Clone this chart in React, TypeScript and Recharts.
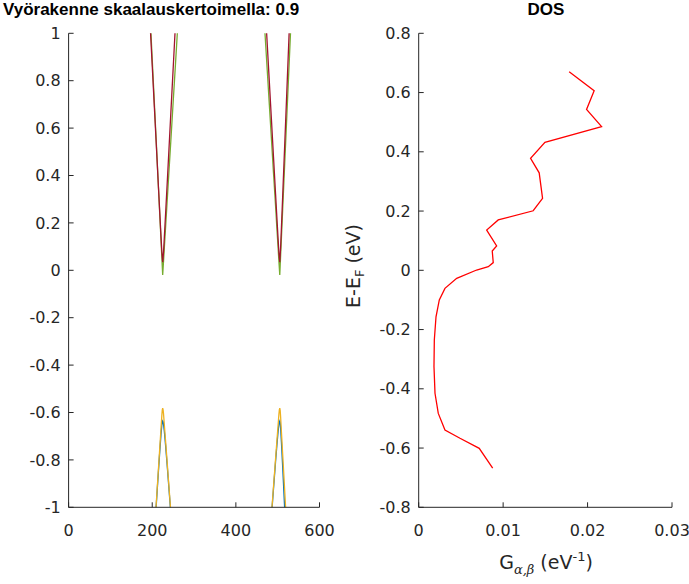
import { LineChart, Line, XAxis, YAxis } from 'recharts'

// band structure (k index -> energy in eV)
const kUpperLeft = [190, 195, 200, 205, 210, 215, 218, 221, 223, 225, 227, 229, 232, 236, 240, 245, 250, 255, 260, 265]
const redLeft = [1.208, 1.035, 0.863, 0.691, 0.519, 0.347, 0.244, 0.142, 0.077, 0.034, 0.077, 0.141, 0.241, 0.375, 0.511, 0.681, 0.85, 1.02, 1.19, 1.36]
const greenLeft = [1.255, 1.07, 0.89, 0.71, 0.53, 0.344, 0.235, 0.126, 0.053, -0.02, 0.038, 0.096, 0.184, 0.3, 0.417, 0.562, 0.708, 0.853, 1.0, 1.144]

const kUpperRight = [465, 470, 475, 480, 485, 490, 495, 498, 501, 503, 505, 507, 509, 512, 515, 519, 523, 527, 531, 535]
const redRight = [1.27, 1.113, 0.955, 0.796, 0.637, 0.478, 0.32, 0.225, 0.132, 0.072, 0.034, 0.096, 0.182, 0.314, 0.449, 0.627, 0.805, 0.984, 1.163, 1.34]
const greenRight = [1.13, 0.99, 0.845, 0.7, 0.555, 0.41, 0.27, 0.18, 0.095, 0.035, -0.02, 0.06, 0.139, 0.259, 0.378, 0.537, 0.696, 0.855, 1.015, 1.174]

const kLowerLeft = [205, 209, 212, 215, 218, 221, 223, 224, 225, 226, 227, 229, 232, 236, 240, 244, 248]
const yellowLeft = [-1.113, -1.001, -0.917, -0.834, -0.75, -0.668, -0.612, -0.59, -0.582, -0.589, -0.605, -0.653, -0.723, -0.818, -0.913, -1.009, -1.105]
const blueLeft = [-1.118, -1.008, -0.926, -0.844, -0.765, -0.692, -0.653, -0.641, -0.636, -0.640, -0.649, -0.68, -0.74, -0.829, -0.922, -1.016, -1.11]

const kLowerRight = [485, 488, 491, 495, 498, 501, 503, 504, 505, 506, 507, 509, 512, 515, 518, 521]
const yellowRight = [-1.033, -0.961, -0.889, -0.794, -0.723, -0.653, -0.605, -0.589, -0.582, -0.592, -0.618, -0.684, -0.778, -0.873, -0.969, -1.065]
const blueRight = [-1.039, -0.969, -0.898, -0.806, -0.74, -0.68, -0.649, -0.64, -0.636, -0.644, -0.665, -0.726, -0.831, -0.941, -1.053, -1.166]

// DOS curve, top to bottom (energy eV, G in 1/eV)
const dosE = [0.67, 0.606, 0.543, 0.485, 0.432, 0.378, 0.329, 0.243, 0.201, 0.17, 0.136, 0.082, 0.065, 0.026, 0.012, 0.001, -0.027, -0.061, -0.1, -0.157, -0.235, -0.325, -0.415, -0.483, -0.539, -0.567, -0.601, -0.668]
const dosG = [0.01782, 0.02078, 0.01988, 0.02166, 0.01495, 0.01325, 0.01427, 0.01467, 0.01356, 0.00942, 0.00805, 0.00923, 0.00871, 0.00883, 0.00824, 0.00686, 0.0045, 0.00311, 0.00244, 0.00205, 0.00185, 0.00181, 0.00193, 0.00232, 0.00311, 0.00489, 0.00717, 0.00876]

const bandKTicks = [0, 200, 400, 600]
const bandETicks = [-1, -0.8, -0.6, -0.4, -0.2, 0, 0.2, 0.4, 0.6, 0.8, 1]
const dosGTicks = [0, 0.01, 0.02, 0.03]
const dosETicks = [-0.8, -0.6, -0.4, -0.2, 0, 0.2, 0.4, 0.6, 0.8]

// the two valleys of a band, with a gap in between
const band = (k1: number[], e1: number[], k2: number[], e2: number[]) => [
  ...k1.map((k, i) => ({ k, e: e1[i] })),
  { k: 365, e: null },
  ...k2.map((k, i) => ({ k, e: e2[i] })),
]

const blueBand = band(kLowerLeft, blueLeft, kLowerRight, blueRight)
const yellowBand = band(kLowerLeft, yellowLeft, kLowerRight, yellowRight)
const greenBand = band(kUpperLeft, greenLeft, kUpperRight, greenRight)
const redBand = band(kUpperLeft, redLeft, kUpperRight, redRight)
const dosData = dosE.map((e, i) => ({ e, g: dosG[i] }))

const axisColor = '#262626'
const tickFont = { fill: '#262626', fontSize: 16, fontFamily: 'DejaVu Sans' }

export default function App() {
  return (
    <div style={{ position: 'absolute', left: 0, top: 0, width: 689, height: 584, background: '#fff', color: '#000' }}>
      <LineChart width={340} height={584} margin={{ top: 33.3, right: 20.5, bottom: 0, left: 0 }} style={{ position: 'absolute', left: 0, top: 0 }}>
        <XAxis type="number" dataKey="k" domain={[0, 600]} ticks={bandKTicks} interval={0} allowDataOverflow height={76.7}
          tickSize={-5} tickMargin={22} stroke={axisColor} tick={tickFont} />
        <XAxis xAxisId="top" orientation="top" type="number" dataKey="k" domain={[0, 600]} ticks={bandKTicks} interval={0} allowDataOverflow height={0}
          tickSize={-5} tick={false} stroke={axisColor} />
        <YAxis type="number" domain={[-1, 1]} ticks={bandETicks} interval={0} allowDataOverflow width={68.6}
          tickSize={-5} tickMargin={13} stroke={axisColor} tick={tickFont} />
        <YAxis yAxisId="right" orientation="right" type="number" domain={[-1, 1]} ticks={bandETicks} interval={0} allowDataOverflow width={0}
          tickSize={-5} tick={false} stroke={axisColor} />
        <Line data={blueBand} dataKey="e" stroke="#0072BD" strokeWidth={1.3} dot={false} isAnimationActive={false} />
        <Line data={yellowBand} dataKey="e" stroke="#EDB120" strokeWidth={1.3} dot={false} isAnimationActive={false} />
        <Line data={greenBand} dataKey="e" stroke="#77AC30" strokeWidth={1.3} dot={false} isAnimationActive={false} />
        <Line data={redBand} dataKey="e" stroke="#A2142F" strokeWidth={1.3} dot={false} isAnimationActive={false} />
      </LineChart>

      <LineChart layout="vertical" data={dosData} width={349} height={584} margin={{ top: 33.3, right: 17, bottom: 0, left: 0 }} style={{ position: 'absolute', left: 340, top: 0 }}>
        <XAxis type="number" domain={[0, 0.03]} ticks={dosGTicks} interval={0} allowDataOverflow height={76.7}
          tickSize={-5} tickMargin={22} stroke={axisColor} tick={tickFont} />
        <XAxis xAxisId="top" orientation="top" type="number" domain={[0, 0.03]} ticks={dosGTicks} interval={0} allowDataOverflow height={0}
          tickSize={-5} tick={false} stroke={axisColor} />
        <YAxis type="number" dataKey="e" reversed domain={[-0.8, 0.8]} ticks={dosETicks} interval={0} allowDataOverflow width={78.7}
          tickSize={-5} tickMargin={13} stroke={axisColor} tick={tickFont} />
        <YAxis yAxisId="right" orientation="right" type="number" dataKey="e" reversed domain={[-0.8, 0.8]} ticks={dosETicks} interval={0} allowDataOverflow width={0}
          tickSize={-5} tick={false} stroke={axisColor} />
        <Line dataKey="g" stroke="#FF0000" strokeWidth={1.3} dot={false} isAnimationActive={false} />
      </LineChart>

      <div style={{ position: 'absolute', left: 3, top: 0, fontFamily: 'Liberation Sans', fontWeight: 'bold', fontSize: 17, whiteSpace: 'nowrap' }}>
        Vyörakenne skaalauskertoimella: 0.9
      </div>
      <div style={{ position: 'absolute', left: 546, top: 0, transform: 'translateX(-50%)', fontFamily: 'Liberation Sans', fontWeight: 'bold', fontSize: 17 }}>
        DOS
      </div>
      <div style={{ position: 'absolute', left: 355, top: 266, transform: 'translate(-50%, -50%) rotate(-90deg)', whiteSpace: 'nowrap',
        fontFamily: 'DejaVu Sans', fontSize: 19, color: '#262626', lineHeight: 1 }}>
        E-E<sub style={{ fontSize: 13 }}>F</sub> (eV)
      </div>
      <div style={{ position: 'absolute', left: 546, top: 563, transform: 'translate(-50%, -50%)', whiteSpace: 'nowrap',
        fontFamily: 'DejaVu Sans', fontSize: 19, color: '#262626', lineHeight: 1 }}>
        G<sub style={{ fontSize: 13, fontFamily: 'DejaVu Serif', fontStyle: 'italic' }}>α,β</sub> (eV<sup style={{ fontSize: 13 }}>-1</sup>)
      </div>
    </div>
  )
}
